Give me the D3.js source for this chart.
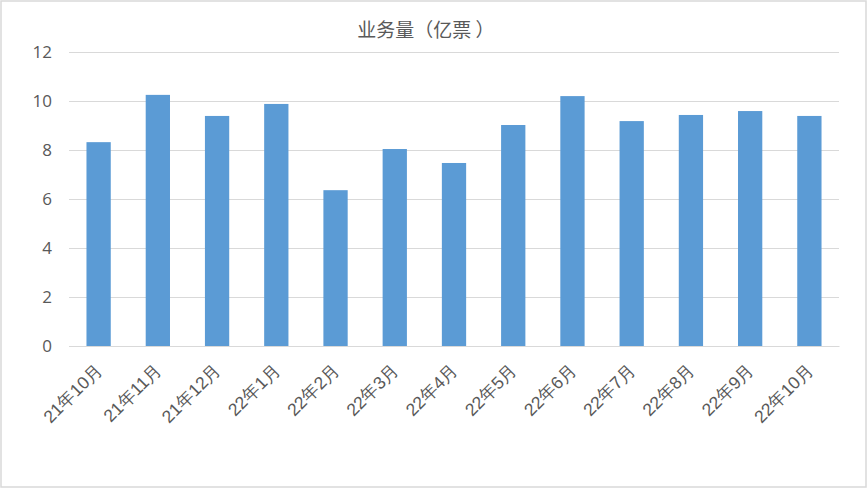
<!DOCTYPE html>
<html><head><meta charset="utf-8">
<script src="https://cdn.jsdelivr.net/npm/d3@7"></script>
<style>body{margin:0;background:#fff;}svg{display:block;font-family:"Noto Sans CJK SC","Noto Sans",sans-serif;}</style>
</head><body>
<svg id="c" width="867" height="488"></svg>
<script>
const categories = ["21年10月","21年11月","21年12月","22年1月","22年2月","22年3月","22年4月","22年5月","22年6月","22年7月","22年8月","22年9月","22年10月"];
const values = [8.32,10.25,9.39,9.88,6.36,8.04,7.47,9.02,10.20,9.18,9.43,9.59,9.39];
const yTicks = [0,2,4,6,8,10,12];
const title = "业务量（亿票 ）";

const svg = d3.select("#c");
svg.append("rect").attr("x",1).attr("y",1).attr("width",865).attr("height",486)
  .attr("fill","#fff").attr("stroke","#d9d9d9").attr("stroke-width",1.5);

const x = d3.scaleBand().domain(categories).range([69,839]).paddingInner(0.59).paddingOuter(0.295);
const y = d3.scaleLinear().domain([0,12]).range([346,52]);

svg.append("text").attr("x",426).attr("y",37).attr("text-anchor","middle")
  .style("font-size","19px").attr("fill","#595959").text(title);

const ga = svg.append("g").attr("transform","translate(69,0)")
  .call(d3.axisLeft(y).tickValues(yTicks).tickSize(-770).tickPadding(17));
ga.select(".domain").remove();
ga.selectAll(".tick line").attr("stroke","#d9d9d9").attr("stroke-width",1);
ga.selectAll(".tick text").style("font-size","17px").attr("fill","#595959").style("font-family","'Open Sans','Noto Sans',sans-serif");

svg.selectAll("rect.bar").data(values).join("rect").attr("class","bar")
  .attr("x",(d,i)=>x(categories[i])).attr("width",x.bandwidth())
  .attr("y",d=>y(d)).attr("height",d=>y(0)-y(d)).attr("fill","#5b9bd5");

const gx = svg.append("g").attr("transform","translate(0,346)")
  .call(d3.axisBottom(x).tickSize(0).tickPadding(0));
gx.select(".domain").attr("stroke","#d9d9d9");
gx.selectAll(".tick text").style("font-size","17.5px").attr("fill","#595959")
  .attr("text-anchor","end").attr("dy",0)
  .attr("transform","translate(5,25) rotate(-45)");
</script>
</body></html>
